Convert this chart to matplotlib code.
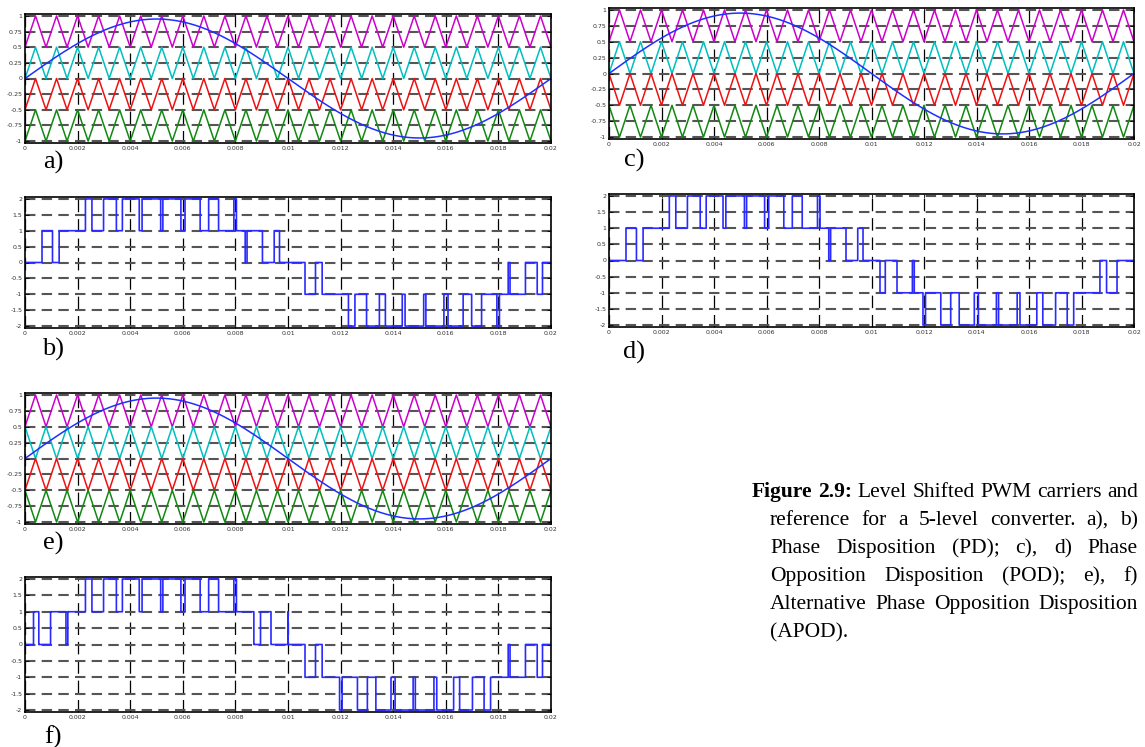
import numpy as np
import matplotlib
matplotlib.use('Agg')
import matplotlib.pyplot as plt

# waveform settings
t_end = 0.02
f_ref = 50
m_ref = 0.95
n_cycles = 25                      # carrier cycles in 0.02 s
band_lows = [0.5, 0.0, -0.5, -1.0]
carrier_colors = ['#cc00cc', '#00bfbf', '#ee1111', '#118811']
ref_color = '#1f2fff'
out_color = '#2a2aff'
# 1 -> carrier starts at the bottom of its band at t=0, 0 -> starts at the top
pd_start = [1, 1, 1, 1]
pod_start = [1, 1, 0, 0]
apod_start = [1, 0, 1, 0]

x_ticks = [0, 0.002, 0.004, 0.006, 0.008, 0.01, 0.012, 0.014, 0.016, 0.018, 0.02]
x_labels = ['0', '0.002', '0.004', '0.006', '0.008', '0.01', '0.012', '0.014', '0.016', '0.018', '0.02']
carrier_yticks = [-1, -0.75, -0.5, -0.25, 0, 0.25, 0.5, 0.75, 1]
carrier_ylabels = ['-1', '-0.75', '-0.5', '-0.25', '0', '0.25', '0.5', '0.75', '1']
output_yticks = [-2, -1.5, -1, -0.5, 0, 0.5, 1, 1.5, 2]
output_ylabels = ['-2', '-1.5', '-1', '-0.5', '0', '0.5', '1', '1.5', '2']

panel_labels = ['a)', 'b)', 'c)', 'd)', 'e)', 'f)']
caption_lines = [
    'Level Shifted PWM carriers and',
    'reference for a 5-level converter. a), b)',
    'Phase Disposition (PD); c), d) Phase',
    'Opposition Disposition (POD); e), f)',
    'Alternative Phase Opposition Disposition',
    '(APOD).',
]

W, H = 1145, 747
fig = plt.figure(figsize=(W / 100, H / 100), dpi=100)

# frame boxes in pixels: left, top, right, bottom
boxes = {
    'a': (25, 14, 551, 143), 'b': (25, 197, 551, 328),
    'c': (609, 8, 1134, 139), 'd': (609, 194, 1134, 327),
    'e': (25, 393, 551, 524), 'f': (25, 577, 551, 712),
}
label_pos = {'a': (53, 162), 'b': (53, 349), 'c': (634, 160), 'd': (634, 352),
             'e': (53, 543), 'f': (53, 737)}


def make_ax(key):
    l, tp, r, b = boxes[key]
    return fig.add_axes([l / W, 1 - b / H, (r - l) / W, (b - tp) / H])


def style(ax, yticks, ylabels, ylim):
    ax.set_xlim(0, t_end)
    ax.set_ylim(-ylim, ylim)
    ax.set_xticks(x_ticks)
    ax.set_xticklabels(x_labels)
    ax.set_yticks(yticks)
    ax.set_yticklabels(ylabels)
    ax.tick_params(direction='in', length=3, width=0.6, labelsize=4.5,
                   labelcolor='#333333', pad=2, top=True, right=True)
    ax.grid(axis='y', color='#555555', lw=1.5, ls=(0, (5, 3)))
    ax.grid(axis='x', color='black', lw=0.9, ls=(0, (10, 5.5)))
    ax.set_axisbelow(True)
    for sp in ax.spines.values():
        sp.set_linewidth(1.2)
        sp.set_color('black')


t = np.linspace(0, t_end, 40001)
ref = m_ref * np.sin(2 * np.pi * f_ref * t)
tv = np.linspace(0, t_end, 2 * n_cycles + 1)


def carriers(starts):
    out = []
    for lo, s in zip(band_lows, starts):
        k = np.arange(len(tv)) % 2
        vals = lo + 0.5 * (k if s == 1 else 1 - k)
        out.append(vals)
    return out


schemes = [('a', 'b', pd_start), ('c', 'd', pod_start), ('e', 'f', apod_start)]
for top_key, bot_key, starts in schemes:
    ax = make_ax(top_key)
    cv = carriers(starts)
    for vals, col in zip(cv, carrier_colors):
        ax.plot(tv, vals, color=col, lw=1.1)
    ax.plot(t, ref, color=ref_color, lw=1.1)
    style(ax, carrier_yticks, carrier_ylabels, 1.03)

    level = np.zeros_like(t)
    for vals in cv:
        level += (ref > np.interp(t, tv, vals))
    level -= 2
    ax2 = make_ax(bot_key)
    ax2.step(t, level, where='post', color=out_color, lw=1.2)
    style(ax2, output_yticks, output_ylabels, 2.06)

for key, lab in zip('abcdef', panel_labels):
    x, y = label_pos[key]
    fig.text(x / W, 1 - y / H, lab, fontsize=19, family='Liberation Serif',
             ha='center', va='center')

# justified caption
renderer = fig.canvas.get_renderer()
cap_size = 15.5
line_y = [491, 519, 547, 575, 603, 631]
right_x = 1138


def word_width(s, bold=False):
    tx = fig.text(0, 0, s, fontsize=cap_size, family='Liberation Serif',
                  fontweight='bold' if bold else 'normal')
    w = tx.get_window_extent(renderer).width
    tx.remove()
    return w


for i, line in enumerate(caption_lines):
    words = [(w, False) for w in line.split()]
    x0 = 770
    if i == 0:
        words = [('Figure', True), ('2.9:', True)] + words
        x0 = 752
    widths = [word_width(w, b) for w, b in words]
    y = 1 - (line_y[i] + 6) / H
    if i == len(caption_lines) - 1:
        gap = word_width('a b') - word_width('ab')
    else:
        gap = (right_x - x0 - sum(widths)) / (len(words) - 1)
    x = x0
    for (w, b), ww in zip(words, widths):
        fig.text(x / W, y, w, fontsize=cap_size, family='Liberation Serif',
                 fontweight='bold' if b else 'normal', ha='left', va='baseline')
        x += ww + gap

fig.savefig('out.png', dpi=100)
